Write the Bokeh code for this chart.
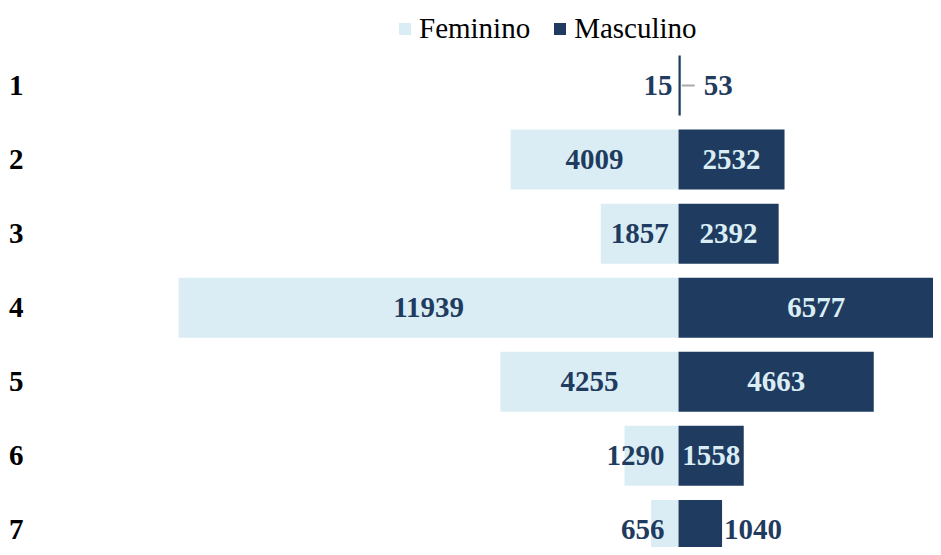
from bokeh.plotting import figure
from bokeh.models import ColumnDataSource, Range1d, FixedTicker, Legend, LegendItem
from bokeh.core.properties import value
from bokeh.embed import file_html
from bokeh.resources import INLINE

# ---- data ----
categories = ["1", "2", "3", "4", "5", "6", "7"]
feminino = [15, 4009, 1857, 11939, 4255, 1290, 656]
masculino = [53, 2532, 2392, 6577, 4663, 1558, 1040]
series_names = ["Feminino", "Masculino"]

# ---- style / layout ----
DARK = "#1f3c60"
LIGHT = "#dbedf4"
FONT = "Liberation Serif"
FS = 29
W, H = 933, 547
LEFT_BORDER = 50
x_start, x_end = -15000, 6090
y_top, y_bottom = -0.1474, 7.237
BAR_H = 0.81
frame_w = W - LEFT_BORDER
k = frame_w / (x_end - x_start)  # px per data unit

ys = list(range(1, len(categories) + 1))

p = figure(width=W, height=H, output_backend="svg", toolbar_location=None,
           x_range=Range1d(x_start, x_end), y_range=Range1d(y_bottom, y_top),
           x_axis_location=None,
           min_border_left=LEFT_BORDER, min_border_right=0,
           min_border_top=0, min_border_bottom=0)
p.grid.visible = False
p.outline_line_color = None
p.background_fill_color = "white"
p.border_fill_color = "white"

yax = p.yaxis[0]
yax.ticker = FixedTicker(ticks=ys)
yax.major_label_overrides = {y: c for y, c in zip(ys, categories)}
yax.axis_line_color = None
yax.major_tick_line_color = None
yax.minor_tick_line_color = None
yax.major_tick_out = 0
yax.major_tick_in = 0
yax.minor_tick_out = 0
yax.minor_tick_in = 0
yax.major_label_text_font = FONT
yax.major_label_text_font_size = f"{FS}px"
yax.major_label_text_font_style = "bold"
yax.major_label_text_color = "black"
yax.major_label_standoff = 27

src_f = ColumnDataSource(dict(y=ys, left=[-v for v in feminino], right=[0] * len(ys)))
src_m = ColumnDataSource(dict(y=ys, left=[0] * len(ys), right=masculino))
rf = p.hbar(y="y", left="left", right="right", height=BAR_H, source=src_f,
            fill_color=LIGHT, line_color=None)
rm = p.hbar(y="y", left="left", right="right", height=BAR_H, source=src_m,
            fill_color=DARK, line_color=None)

# ---- value labels ----
def label_width(v):
    return len(str(v)) * 0.5 * FS

lx, ly, lt, loff, lalign, lcol = [], [], [], [], [], []
seg_x0, seg_x1, seg_y = [], [], []
for y, v in zip(ys, feminino):
    bw = v * k
    w = label_width(v)
    lt.append(str(v)); ly.append(y)
    if w + 6 <= bw:
        lx.append(-v / 2); loff.append(0); lalign.append("center"); lcol.append(DARK)
    else:
        lx.append(0); loff.append(-6 if bw < 5 else -14); lalign.append("right"); lcol.append(DARK)
for y, v in zip(ys, masculino):
    bw = v * k
    w = label_width(v)
    lt.append(str(v)); ly.append(y)
    if w + 6 <= bw:
        lx.append(v / 2); loff.append(0); lalign.append("center"); lcol.append(LIGHT)
    elif bw < 5:
        lx.append(v); loff.append(23); lalign.append("left"); lcol.append(DARK)
        seg_x0.append(v + 1 / k); seg_x1.append(v + 14 / k); seg_y.append(y)
    else:
        lx.append(v); loff.append(2); lalign.append("left"); lcol.append(DARK)

if seg_y:
    p.segment(x0=seg_x0, x1=seg_x1, y0=seg_y, y1=seg_y, line_color="#aaaaaa", line_width=2)

for align in ("center", "left", "right"):
    idx = [i for i, a in enumerate(lalign) if a == align]
    if not idx:
        continue
    s = ColumnDataSource(dict(x=[lx[i] for i in idx], y=[ly[i] for i in idx],
                              t=[lt[i] for i in idx], off=[loff[i] for i in idx],
                              c=[lcol[i] for i in idx]))
    p.text(x="x", y="y", text="t", source=s, x_offset="off", text_color="c",
           text_align=align, text_baseline="middle",
           text_font=value(FONT), text_font_size=f"{FS}px", text_font_style="bold")

legend = Legend(items=[LegendItem(label=series_names[0], renderers=[rf]),
                       LegendItem(label=series_names[1], renderers=[rm])],
                orientation="horizontal", location=(347, 502),
                glyph_width=15, glyph_height=15, label_standoff=7, spacing=22,
                padding=0, margin=0, border_line_color=None, background_fill_alpha=0,
                label_text_font=FONT, label_text_font_size=f"{FS}px",
                label_text_color="black")
p.add_layout(legend)

open("out.html", "w").write(file_html(p, INLINE))
